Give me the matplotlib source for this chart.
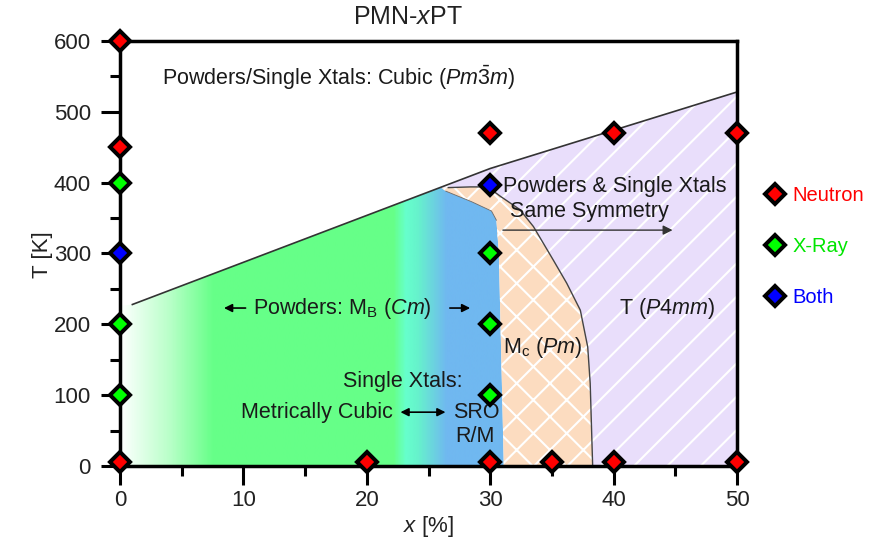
import numpy as np
import matplotlib
matplotlib.use('Agg')
import matplotlib.pyplot as plt
from matplotlib.patches import Polygon
from matplotlib.colors import LinearSegmentedColormap
from matplotlib.lines import Line2D

plt.rcParams['font.family'] = 'Liberation Sans'
plt.rcParams['mathtext.fontset'] = 'custom'
plt.rcParams['mathtext.rm'] = 'Liberation Sans'
plt.rcParams['mathtext.it'] = 'Liberation Sans:italic'
plt.rcParams['mathtext.bf'] = 'Liberation Sans:bold'
plt.rcParams['hatch.linewidth'] = 1.5

# Measurement points (x in % PT, T in K)
neutron_x = [0, 0, 0, 20, 30, 35, 40, 50, 30, 40, 50]
neutron_T = [600, 450, 5, 5, 5, 5, 5, 5, 470, 470, 470]
xray_x = [0, 0, 0, 30, 30, 30]
xray_T = [400, 200, 100, 300, 200, 100]
both_x = [0, 30]
both_T = [300, 397]

# Cubic / non-cubic transition line
cubic_x = [1, 30, 50]
cubic_T = [228, 420, 528]

# Right edge of the M_B (blue) region, top to bottom
mb_edge_x = [26.4, 28.5, 30.1, 30.5, 30.7, 30.9, 31.1]
mb_edge_T = [388, 373, 360, 347, 300, 150, 0]

# Mc / T boundary, top to bottom
mc_edge_x = [26.6, 28.4, 29.8, 30.8, 32.4, 33.5, 35.1, 36.2, 37.3, 37.9, 38.1, 38.3]
mc_edge_T = [393, 394, 394, 381, 362, 338, 291, 258, 220, 168, 117, 0]

# Colour stops of the powder region gradient (x position, colour)
grad_x = [0, 1, 4, 7.5, 22.2, 23.2, 24.2, 26.5, 31.5]
grad_c = ['#ffffff', '#ecfff1', '#b8ffc8', '#66ff88', '#66ff88',
          '#66ffcc', '#66f2cc', '#70b8f0', '#70b8f0']


def cubic(x):
    return np.interp(x, cubic_x, cubic_T)


fig = plt.figure(figsize=(8.71, 5.42), dpi=100)
ax = fig.add_axes([0.1378, 0.1402, 0.7084, 0.7842])

# powder region: green -> cyan -> blue gradient clipped to its outline
top_x = np.linspace(1, 26.0, 30)
mb_poly = [(0, 0), (0, 226)] + list(zip(top_x, cubic(top_x))) + list(zip(mb_edge_x, mb_edge_T))
xmax = grad_x[-1]
cmap = LinearSegmentedColormap.from_list(
    'mb', [(gx / xmax, c) for gx, c in zip(grad_x, grad_c)])
grad = np.linspace(0, 1, 600).reshape(1, -1)
im = ax.imshow(grad, extent=[0, xmax, 0, 600], aspect='auto', cmap=cmap,
               interpolation='bilinear', zorder=1)
clip = Polygon(mb_poly, closed=True, transform=ax.transData)
im.set_clip_path(clip)

# Mc region (peach, cross-hatched)
mc_poly = (list(zip(mb_edge_x[::-1], mb_edge_T[::-1])) + [(26.0, cubic(26.0))]
           + list(zip(mc_edge_x, mc_edge_T)))
ax.add_patch(Polygon(mc_poly, closed=True, facecolor='#fcdcc0', edgecolor='white',
                     hatch='x', lw=0, zorder=1))

# T region (lavender, diagonal hatch)
t_top_x = np.linspace(26.0, 50, 40)
t_poly = (list(zip(mc_edge_x[::-1], mc_edge_T[::-1])) + list(zip(t_top_x, cubic(t_top_x)))
          + [(50, 0)])
ax.add_patch(Polygon(t_poly, closed=True, facecolor='#e9defb', edgecolor='white',
                     hatch='/', lw=0, zorder=1))

# phase boundaries
ax.plot(cubic_x, cubic_T, color='#333333', lw=1.2, zorder=2)
ax.plot(mc_edge_x, mc_edge_T, color='#444444', lw=1.0, zorder=2)
ax.plot(mb_edge_x[:4], mb_edge_T[:4], color='#666666', lw=0.6, zorder=2)

# labels inside the diagram
tc = '#1a1a1a'
fs = 15.5
ax.text(3.4, 548, r'Powders/Single Xtals: Cubic ($Pm\bar{3}m$)', fontsize=fs,
        color=tc, ha='left', va='center', zorder=3)
ax.text(40.1, 394, 'Powders & Single Xtals', fontsize=fs, color=tc,
        ha='center', va='center', zorder=3)
ax.text(38.0, 359, 'Same Symmetry', fontsize=fs, color=tc,
        ha='center', va='center', zorder=3)
ax.annotate('', xy=(45.0, 333), xytext=(30.8, 333),
            arrowprops=dict(arrowstyle='-|>', color='#333333', lw=1.0,
                            mutation_scale=14), zorder=3)
ax.text(44.3, 223, r'T ($\mathit{P4mm}$)', fontsize=fs, color=tc,
        ha='center', va='center', zorder=3)
ax.text(10.8, 223, r'Powders: $\mathrm{M}_\mathrm{B}$ ($\mathit{Cm}$)', fontsize=fs,
        color=tc, ha='left', va='center', zorder=3)
ax.annotate('', xy=(8.2, 223), xytext=(10.4, 223),
            arrowprops=dict(arrowstyle='-|>', color='black', lw=1.2,
                            mutation_scale=12), zorder=3)
ax.annotate('', xy=(28.6, 223), xytext=(26.5, 223),
            arrowprops=dict(arrowstyle='-|>', color='black', lw=1.2,
                            mutation_scale=12), zorder=3)
ax.text(31.0, 167, r'$\mathrm{M}_\mathrm{c}$ ($\mathit{Pm}$)', fontsize=fs,
        color=tc, ha='left', va='center', zorder=3)
ax.text(22.9, 120, 'Single Xtals:', fontsize=fs, color=tc,
        ha='center', va='center', zorder=3)
ax.text(22.1, 76, 'Metrically Cubic', fontsize=fs, color=tc,
        ha='right', va='center', zorder=3)
ax.annotate('', xy=(26.6, 76), xytext=(22.5, 76),
            arrowprops=dict(arrowstyle='<|-|>', color='black', lw=1.2,
                            mutation_scale=12), zorder=3)
ax.text(28.9, 76, 'SRO', fontsize=fs, color=tc, ha='center', va='center', zorder=3)
ax.text(28.8, 41, 'R/M', fontsize=fs, color=tc, ha='center', va='center', zorder=3)

# measurement markers
mk = dict(marker='D', ls='none', ms=10.5, mec='black', mew=2.9, clip_on=False, zorder=5)
ax.plot(neutron_x, neutron_T, mfc='#ff0000', **mk)
ax.plot(xray_x, xray_T, mfc='#00ff00', **mk)
ax.plot(both_x, both_T, mfc='#0000ff', **mk)

# legend to the right of the axes
handles = [Line2D([], [], mfc=c, **{k: v for k, v in mk.items() if k != 'clip_on'})
           for c in ['#ff0000', '#00ff00', '#0000ff']]
leg = fig.legend(handles, ['Neutron', 'X-Ray', 'Both'], loc='upper left',
                 bbox_to_anchor=(765 / 871, 1 - 186 / 542), frameon=False,
                 fontsize=14.5, handlelength=1.0, handletextpad=0.35,
                 labelspacing=1.6, borderpad=0, borderaxespad=0, numpoints=1)
for t, c in zip(leg.get_texts(), ['#ff0000', '#00e600', '#0000ff']):
    t.set_color(c)

# axes styling
ax.set_xlim(0, 50)
ax.set_ylim(0, 600)
ax.set_xticks(np.arange(0, 51, 10))
ax.set_xticks(np.arange(5, 50, 10), minor=True)
ax.set_yticks(np.arange(0, 601, 100))
ax.set_yticks(np.arange(50, 600, 100), minor=True)
for s in ax.spines.values():
    s.set_linewidth(2.5)
ax.tick_params(which='major', direction='out', length=14, width=2.2,
               labelsize=16, labelcolor='#222222')
ax.tick_params(which='minor', direction='out', length=7.5, width=2.2)
ax.tick_params(axis='x', which='major', pad=3)
ax.tick_params(axis='y', which='major', pad=7)

ax.set_xlabel(r'$x$ [%]', fontsize=16, color='#222222')
ax.xaxis.set_label_coords(0.5, -0.112)
ax.set_ylabel('T [K]', fontsize=16, color='#222222')
ax.yaxis.set_label_coords(-0.108, 0.497)
ax.text(0.467, 1.056, r'PMN-$x$PT', transform=ax.transAxes, fontsize=18,
        color='#222222', ha='center', va='center')

fig.savefig('out.png', dpi=100)
